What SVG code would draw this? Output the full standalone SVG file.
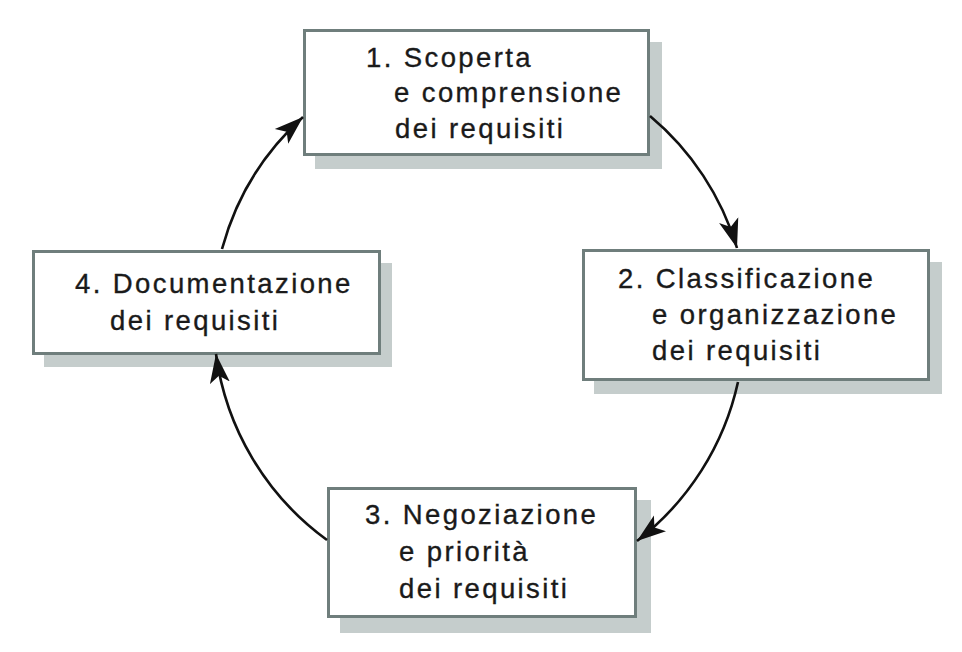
<svg xmlns="http://www.w3.org/2000/svg" width="962" height="652" viewBox="0 0 962 652">
<style>
.shadow{fill:#c5cdcc;stroke:none}
.box{fill:#ffffff;stroke:#6f7e7c;stroke-width:3}
.lbl{font-family:"Liberation Sans",Arial,sans-serif;font-size:27.5px;letter-spacing:2.4px;fill:#1a1a1a;stroke:#1a1a1a;stroke-width:0.35}
.conn{fill:none;stroke:#111111;stroke-width:2.6}
</style>
<defs>
<marker id="ah" markerUnits="userSpaceOnUse" viewBox="0 0 30 22" markerWidth="30" markerHeight="22" refX="29" refY="11" orient="auto">
<path d="M0,1 L29,11 L0,21 L7,11 z" fill="#111111"/>
</marker>
</defs>
<rect width="962" height="652" fill="#ffffff"/>
<g id="node1">
<rect class="shadow" x="315" y="42" width="347" height="127"/>
<rect class="box" x="304.5" y="30.5" width="344" height="124"/>
<text class="lbl" x="366" y="67">1. Scoperta</text>
<text class="lbl" x="394" y="102">e comprensione</text>
<text class="lbl" x="395" y="138">dei requisiti</text>
</g>
<g id="node2">
<rect class="shadow" x="594" y="262" width="348" height="132"/>
<rect class="box" x="583.5" y="250.5" width="345" height="129"/>
<text class="lbl" x="618" y="288">2. Classificazione</text>
<text class="lbl" x="652" y="324">e organizzazione</text>
<text class="lbl" x="652" y="360">dei requisiti</text>
</g>
<g id="node3">
<rect class="shadow" x="340" y="500" width="311" height="133"/>
<rect class="box" x="328.5" y="488.5" width="307" height="128"/>
<text class="lbl" x="365" y="524">3. Negoziazione</text>
<text class="lbl" x="399" y="561">e priorità</text>
<text class="lbl" x="399" y="598">dei requisiti</text>
</g>
<g id="node4">
<rect class="shadow" x="44" y="263" width="348" height="104"/>
<rect class="box" x="33.5" y="251.5" width="346" height="102"/>
<text class="lbl" x="75" y="293">4. Documentazione</text>
<text class="lbl" x="110" y="330">dei requisiti</text>
</g>
<g id="connectors">
<path class="conn" d="M650,116 A275,275 0 0 1 737,248" marker-end="url(#ah)"/>
<path class="conn" d="M738,382 A275,275 0 0 1 637,541" marker-end="url(#ah)"/>
<path class="conn" d="M327,540 A275,275 0 0 1 216,354" marker-end="url(#ah)"/>
<path class="conn" d="M222,249 A275,275 0 0 1 303,117" marker-end="url(#ah)"/>
</g>
</svg>
